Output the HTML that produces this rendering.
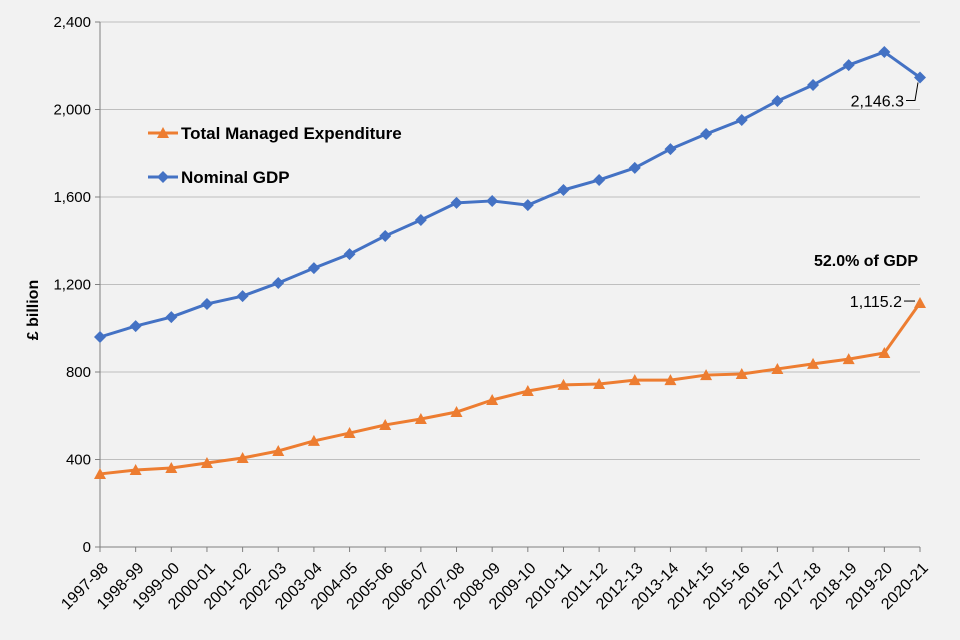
<!DOCTYPE html>
<html><head><meta charset="utf-8"><style>
html,body{margin:0;padding:0;background:#f2f2f2;}
svg{display:block;font-family:"Liberation Sans",Arial,sans-serif;}
</style></head><body>
<svg id="chart" width="960" height="640" viewBox="0 0 960 640" xmlns="http://www.w3.org/2000/svg">
<rect width="960" height="640" fill="#f2f2f2"/>
<g id="grid"></g>
<g id="axes"></g>
<g id="series"></g>
<text x="0" y="0" transform="translate(38,310) rotate(-90)" text-anchor="middle" font-size="16" font-weight="bold" fill="#000">£ billion</text>
<g>
<g>
<line x1="148" y1="133" x2="178" y2="133" stroke="#ED7D31" stroke-width="3"/>
<polygon points="163,127 169,138 157,138" fill="#ED7D31"/>
<text x="181" y="139" font-size="17" font-weight="bold" fill="#000">Total Managed Expenditure</text>
</g>
<g>
<line x1="148" y1="177" x2="178" y2="177" stroke="#4472C4" stroke-width="3"/>
<polygon points="163,171 169,177 163,183 157,177" fill="#4472C4"/>
<text x="181" y="183" font-size="17" font-weight="bold" fill="#000">Nominal GDP</text>
</g>
</g>
<text x="918" y="266" text-anchor="end" font-size="16" font-weight="bold" fill="#000">52.0% of GDP</text>
</svg>
<script>
const categories=["1997-98","1998-99","1999-00","2000-01","2001-02","2002-03","2003-04","2004-05","2005-06","2006-07","2007-08","2008-09","2009-10","2010-11","2011-12","2012-13","2013-14","2014-15","2015-16","2016-17","2017-18","2018-19","2019-20","2020-21"];
const gdpValues=[960,1010,1051,1111,1147,1207,1275,1339,1422,1495,1573,1582,1563,1632,1678,1733,1819,1888,1952,2039,2112,2203,2263,2146.3];
const tmeValues=[334,352,361,384,407,439,485,521,558,585,617,672,713,741,745,763,763,786,791,814,837,859,887,1115.2];
const yTicks=[0,400,800,1200,1600,2000,2400];
const yTickLabels=["0","400","800","1,200","1,600","2,000","2,400"];
const gdpLastLabel="2,146.3";
const tmeLastLabel="1,115.2";

const NS="http://www.w3.org/2000/svg";
const X0=100,X1=920,Y0=547,Y1=22,YMAX=2400;
function xs(i){return X0+i*(X1-X0)/(categories.length-1);}
function ys(v){return Y0-(v/YMAX)*(Y0-Y1);}
function mk(tag,attrs,parent){const e=document.createElementNS(NS,tag);for(const k in attrs)e.setAttribute(k,attrs[k]);parent.appendChild(e);return e;}
const grid=document.getElementById('grid'),axes=document.getElementById('axes'),series=document.getElementById('series');
yTicks.forEach((t,i)=>{
  if(t>0){const l=mk('line',{x1:X0,x2:X1,y1:ys(t),y2:ys(t),stroke:'#bfbfbf','stroke-width':1},grid);
  
  }
  const tk=mk('line',{x1:X0-5,x2:X0,y1:ys(t),y2:ys(t),stroke:'#808080'},axes);
  
  
  const tx=mk('text',{x:X0-9,y:ys(t)+5,'text-anchor':'end','font-size':15,fill:'#000'},axes);
  tx.textContent=yTickLabels[i];
  
  
});
const ya=mk('line',{x1:X0,x2:X0,y1:Y1,y2:Y0,stroke:'#808080'},axes);


const xa=mk('line',{x1:X0,x2:X1,y1:Y0,y2:Y0,stroke:'#808080'},axes);


categories.forEach((c,i)=>{
  const x=xs(i);
  const tk=mk('line',{x1:x,x2:x,y1:Y0,y2:Y0+5,stroke:'#808080'},axes);
  
  
  const t=mk('text',{x:0,y:0,transform:`translate(${x+9},${Y0+22}) rotate(-45)`,'text-anchor':'end','font-size':16,fill:'#000'},axes);
  t.textContent=c;
  
  
});
function drawSeries(vals,color,shape,name){
  const g=mk('g',{},series);
  
  
  const p=mk('polyline',{points:vals.map((v,i)=>xs(i)+','+ys(v)).join(' '),fill:'none',stroke:color,'stroke-width':3,'stroke-linejoin':'round'},g);
  
  
  vals.forEach((v,i)=>{
    const x=xs(i),y=ys(v);
    const pts=shape==='tri'?`${x},${y-6} ${x+6},${y+5} ${x-6},${y+5}`:`${x},${y-6} ${x+6},${y} ${x},${y+6} ${x-6},${y}`;
    const m=mk('polygon',{points:pts,fill:color},g);
    
    
  });
}
drawSeries(gdpValues,'#4472C4','dia','gdp-series');
drawSeries(tmeValues,'#ED7D31','tri','tme-series');
const n=categories.length-1;
const gx=xs(n),gy=ys(gdpValues[n]);
const gl=mk('polyline',{points:`${gx-2},${gy+5} ${gx-5},${gy+23} ${gx-14},${gy+23}`,fill:'none',stroke:'#000','stroke-width':1},series);


const gt=mk('text',{x:gx-16,y:gy+29,'text-anchor':'end','font-size':16,fill:'#000'},series);
gt.textContent=gdpLastLabel;


const tx=xs(n),ty=ys(tmeValues[n]);
const tl=mk('line',{x1:tx-5,y1:ty-2,x2:tx-16,y2:ty-2,stroke:'#000','stroke-width':1},series);


const tt=mk('text',{x:tx-18,y:ty+4,'text-anchor':'end','font-size':16,fill:'#000'},series);
tt.textContent=tmeLastLabel;


</script>
</body></html>
